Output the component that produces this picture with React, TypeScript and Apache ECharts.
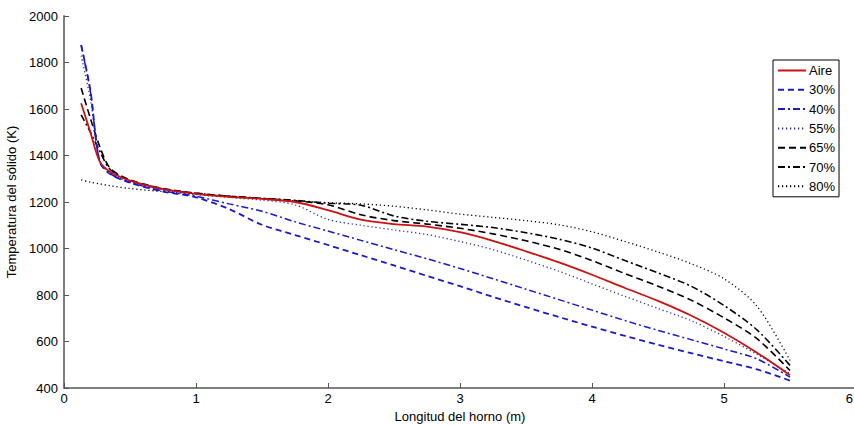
import React, { useEffect, useRef } from "react";
import * as echarts from "echarts";

const xs = [0.13, 0.2, 0.27, 0.35, 0.5, 0.75, 1.0, 1.25, 1.5, 1.75, 2.0, 2.25, 2.5, 2.75, 3.0, 3.25, 3.5, 3.75, 4.0, 4.25, 4.5, 4.75, 5.0, 5.25, 5.5];

const aire = [1625, 1500, 1375, 1330, 1292, 1255, 1235, 1222, 1213, 1200, 1165, 1124, 1105, 1094, 1070, 1033, 988, 940, 887, 830, 775, 712, 638, 552, 455];
const p30 = [1875, 1680, 1375, 1320, 1283, 1245, 1220, 1170, 1102, 1058, 1015, 971, 927, 882, 838, 792, 748, 705, 664, 624, 586, 550, 515, 480, 432];
const p40 = [1875, 1675, 1375, 1322, 1285, 1248, 1225, 1192, 1160, 1115, 1075, 1035, 995, 956, 914, 870, 825, 780, 735, 690, 648, 608, 568, 525, 447];
const p55 = [1830, 1640, 1380, 1325, 1288, 1252, 1232, 1220, 1208, 1188, 1125, 1100, 1080, 1060, 1030, 995, 950, 902, 848, 794, 742, 690, 622, 545, 462];
const p65 = [1690, 1560, 1440, 1345, 1295, 1258, 1238, 1225, 1215, 1205, 1188, 1145, 1120, 1105, 1087, 1063, 1033, 997, 948, 892, 838, 778, 702, 612, 475];
const p70 = [1575, 1500, 1420, 1340, 1292, 1256, 1237, 1225, 1216, 1207, 1195, 1186, 1140, 1117, 1104, 1090, 1068, 1040, 1002, 948, 895, 838, 755, 650, 497];
const p80 = [1295, 1285, 1278, 1270, 1258, 1245, 1235, 1225, 1215, 1205, 1197, 1192, 1182, 1166, 1148, 1134, 1120, 1102, 1072, 1030, 985, 935, 870, 752, 518];

const seriesNames = ["Aire", "30%", "40%", "55%", "65%", "70%", "80%"];

const FONT = "'Liberation Sans', Arial, Helvetica, sans-serif";

export default function App() {
  const ref = useRef<HTMLDivElement>(null);
  useEffect(() => {
    document.body.style.margin = "0";
    const chart = echarts.init(ref.current!, undefined, { renderer: "svg" });
    const dataSets = [aire, p30, p40, p55, p65, p70, p80];
    const styles = [
      { color: "#cc1111", type: "solid" as any, width: 1.8 },
      { color: "#1a1acc", type: [6, 4] as any, width: 1.8 },
      { color: "#1a1acc", type: [7, 3, 2, 3] as any, width: 1.5 },
      { color: "#2a2a99", type: [1.2, 2.8] as any, width: 1.3 },
      { color: "#000000", type: [7, 4] as any, width: 1.6 },
      { color: "#000000", type: [7, 3, 2, 3] as any, width: 1.6 },
      { color: "#000000", type: [1.2, 2.8] as any, width: 1.3 },
    ];
    const series = dataSets.map((d, i) => ({
      name: seriesNames[i],
      type: "line",
      data: xs.map((x, j) => [x, d[j]]),
      showSymbol: false,
      symbol: "none",
      smooth: 0.3,
      lineStyle: styles[i],
      itemStyle: { color: styles[i].color },
      z: 10 - i,
    }));
    chart.setOption({
      animation: false,
      backgroundColor: "#ffffff",
      textStyle: { fontFamily: FONT },
      grid: { left: 64, top: 16, width: 792, height: 372, containLabel: false, outerBoundsMode: "none" },
      legend: {
        orient: "vertical",
        left: 773,
        top: 60,
        width: 78,
        padding: [4, 4, 4, 4],
        itemWidth: 28,
        itemHeight: 12,
        itemGap: 6.3,
        backgroundColor: "#ffffff",
        borderColor: "#000000",
        borderWidth: 1,
        borderRadius: 0,
        itemStyle: { opacity: 0 },
        textStyle: { fontFamily: FONT, fontSize: 13, color: "#000", padding: [0, 0, 0, -2] },
        data: seriesNames,
      },
      xAxis: {
        type: "value",
        min: 0,
        max: 6,
        interval: 1,
        name: "Longitud del horno (m)",
        nameLocation: "middle",
        nameGap: 21,
        nameTextStyle: { fontFamily: FONT, fontSize: 13, color: "#000" },
        axisLine: { show: true, lineStyle: { color: "#7f7f7f", width: 2 } },
        axisTick: { show: true, inside: true, length: 5, lineStyle: { color: "#555", width: 1 } },
        axisLabel: {
          fontFamily: FONT,
          fontSize: 13,
          color: "#000",
          margin: 4,
          alignMaxLabel: "right",
          formatter: (v: number) => (v === 6 ? "{r|6}" : String(v)),
          rich: { r: { fontFamily: FONT, fontSize: 13, color: "#000", padding: [0, 3, 0, 0] } },
        },
        splitLine: { show: false },
      },
      yAxis: {
        type: "value",
        min: 400,
        max: 2000,
        interval: 200,
        name: "Temperatura del sólido (K)",
        nameLocation: "middle",
        nameGap: 40,
        nameRotate: 90,
        nameTextStyle: { fontFamily: FONT, fontSize: 13, color: "#000" },
        axisLine: { show: true, lineStyle: { color: "#7f7f7f", width: 2 } },
        axisTick: { show: true, inside: true, length: 5, lineStyle: { color: "#555", width: 1 } },
        axisLabel: { fontFamily: FONT, fontSize: 13, color: "#000", margin: 6, formatter: (v: number) => String(v) },
        splitLine: { show: false },
      },
      series,
    } as any);
    return () => chart.dispose();
  }, []);
  return <div ref={ref} style={{ width: 854, height: 425, position: "absolute", left: 0, top: 0 }} />;
}
